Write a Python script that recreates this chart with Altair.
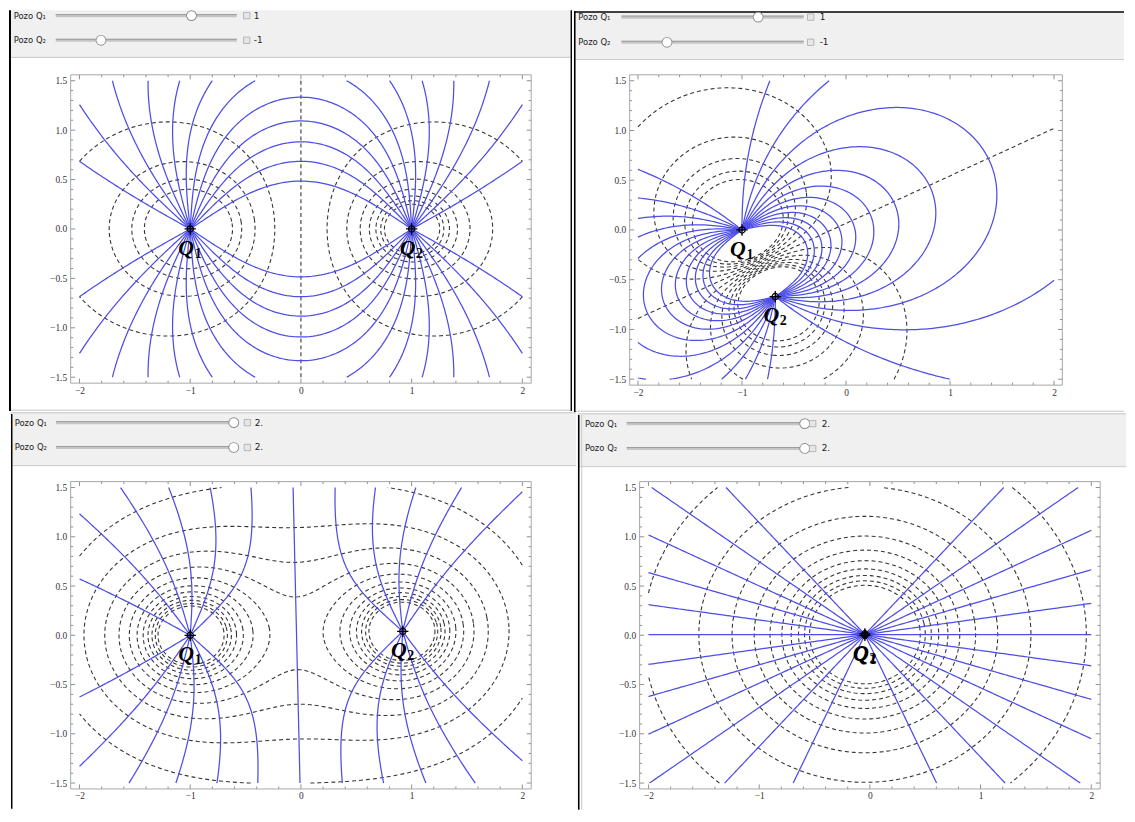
import numpy as np
import pandas as pd
import altair as alt

# ---------------- values ----------------
# slider values of the four Manipulate panels (top-left, top-right, bottom-left, bottom-right)
Q1_VALUES = [1, 1, 2, 2]
Q2_VALUES = [-1, -1, 2, 2]
Q1_SHOWN = ["1", "1", "2.", "2."]
Q2_SHOWN = ["-1", "-1", "2.", "2."]
SLIDER_MIN, SLIDER_MAX = -2, 2

# locator positions of the two wells in each panel
Q1_X = [-1.0, -1.0, -1.0, -0.045]
Q1_Y = [0.0, 0.0, 0.0, 0.0]
Q2_X = [1.0, -0.68, 0.92, -0.045]
Q2_Y = [0.0, -0.67, 0.04, 0.015]

# contour values of the flow lines (blue) and of the equipotentials (dashed)
STREAM_LEVELS = [
    [0.15, 0.30, 0.45, 0.60, 0.75, 0.90, 1.05, 1.20, 1.35, 1.50, 1.65, 1.80],
    [0.10, 0.20, 0.30, 0.40, 0.50, 0.60, 0.70, 0.80, 0.90, 1.00, 1.10, 1.20],
    [-3.675, -3.0625, -2.45, -1.8375, -1.225, -0.6125, 0.0, 0.6125, 1.225, 1.8375, 2.45, 3.0625],
    [-3.675, -3.0625, -2.45, -1.8375, -1.225, -0.6125, 0.0, 0.6125, 1.225, 1.8375, 2.45, 3.0625],
]
POTENTIAL_LEVELS = [
    [-3.5, -3.0, -2.5, -2.0, -1.5, -1.0, -0.5, 0.0, 0.5, 1.0, 1.5, 2.0],
    [-1.386, -1.155, -0.924, -0.693, -0.462, -0.231, 0.0, 0.231, 0.462, 0.693, 0.924, 1.155],
    [1.667, 2.222, 2.778, 3.333, 3.889, 4.444, 5.0, 5.556, 6.111, 6.667, 7.222, 7.778],
    [0.667, 1.333, 2.0, 2.667, 3.333, 4.0, 4.667, 5.333, 6.0, 6.667, 7.333, 8.0],
]

X_MAJOR = [-2, -1, 0, 1, 2]
X_MINOR = [-1.8, -1.6, -1.4, -1.2, -0.8, -0.6, -0.4, -0.2,
           0.2, 0.4, 0.6, 0.8, 1.2, 1.4, 1.6, 1.8]
Y_MAJOR = [-1.5, -1.0, -0.5, 0.0, 0.5, 1.0, 1.5]
Y_MINOR = [-1.4, -1.3, -1.2, -1.1, -0.9, -0.8, -0.7, -0.6, -0.4, -0.3, -0.2, -0.1,
           0.1, 0.2, 0.3, 0.4, 0.6, 0.7, 0.8, 0.9, 1.1, 1.2, 1.3, 1.4]

# ---------------- layout (page pixels) ----------------
PANEL_BOX = [(8, 8, 574, 411), (574, 8, 1127, 411), (8, 411, 576, 810), (576, 411, 1127, 810)]
FRAME = [(70, 73, 463, 310), (630, 72, 435, 312), (68, 481, 463, 309), (638, 480, 463, 309)]
CTRL = [
    dict(top=8, sep=55.5, rows=(13.5, 38.3), label=12.7, track=(55, 237), box=247, val=254),
    dict(top=9.6, sep=56.7, rows=(14.0, 39.3), label=578.3, track=(621.7, 805), box=812, val=821),
    dict(top=412, sep=465, rows=(421.7, 446.7), label=11.7, track=(53.3, 232), box=245.7, val=253),
    dict(top=412, sep=465, rows=(421.7, 446.7), label=583, track=(625, 804), box=812, val=821),
]
XDOM = [-2.08, 2.08]
YDOM = [-1.56, 1.56]

BLUE = "#4d4de8"
DASH = "#363636"
TICK = "#8f8f8f"
FRAMEC = "#a6a6a6"

# ---------------- field computation ----------------
NX, NY = 300, 226
XG = np.linspace(-2.0, 2.0, NX)
YG = np.linspace(-1.5, 1.5, NY)


def grids(qs, xs, ys):
    XX, YY = np.meshgrid(XG, YG)
    ax, ay = xs[1] - xs[0], ys[1] - ys[0]
    n = np.hypot(ax, ay)
    ax, ay = ax / n, ay / n
    phi = np.zeros_like(XX)
    psi = np.zeros_like(XX)
    for q, x0, y0 in zip(qs, xs, ys):
        dx, dy = XX - x0, YY - y0
        r = np.sqrt(dx * dx + dy * dy) + 1e-9
        phi += q / r
        psi += q * (dx * ax + dy * ay) / r
    return np.clip(phi, -500, 500), psi


CASES = {1: [('L', 'B')], 2: [('B', 'R')], 3: [('L', 'R')], 4: [('R', 'T')], 6: [('B', 'T')],
         7: [('T', 'L')], 8: [('T', 'L')], 9: [('B', 'T')], 11: [('R', 'T')], 12: [('L', 'R')],
         13: [('B', 'R')], 14: [('L', 'B')]}
SADDLE = {5: {True: [('B', 'R'), ('T', 'L')], False: [('L', 'B'), ('R', 'T')]},
          10: {True: [('L', 'B'), ('R', 'T')], False: [('B', 'R'), ('T', 'L')]}}


def contour_paths(Z, level):
    ny, nx = Z.shape
    B = Z > level
    a = B[:-1, :-1]; b = B[:-1, 1:]; c = B[1:, 1:]; d = B[1:, :-1]
    case = a.astype(int) + 2 * b + 4 * c + 8 * d
    center = 0.25 * (Z[:-1, :-1] + Z[:-1, 1:] + Z[1:, 1:] + Z[1:, :-1]) > level
    NH = ny * (nx - 1)
    ii, jj = np.meshgrid(np.arange(ny - 1), np.arange(nx - 1), indexing='ij')
    eid = {'B': ii * (nx - 1) + jj, 'T': (ii + 1) * (nx - 1) + jj,
           'L': NH + ii * nx + jj, 'R': NH + ii * nx + jj + 1}
    segs = []
    for k, pairs in CASES.items():
        m = case == k
        if m.any():
            for e1, e2 in pairs:
                segs.append(np.stack([eid[e1][m], eid[e2][m]], 1))
    for k, opt in SADDLE.items():
        for cen, pairs in opt.items():
            m = (case == k) & (center == cen)
            if m.any():
                for e1, e2 in pairs:
                    segs.append(np.stack([eid[e1][m], eid[e2][m]], 1))
    if not segs:
        return []
    segs = np.concatenate(segs)
    ue = np.unique(segs)
    xy = np.empty((len(ue), 2))
    h = ue < NH
    i, j = np.divmod(ue[h], nx - 1)
    z0, z1 = Z[i, j], Z[i, j + 1]
    t = (level - z0) / (z1 - z0)
    xy[h, 0] = XG[j] + t * (XG[j + 1] - XG[j]); xy[h, 1] = YG[i]
    i, j = np.divmod(ue[~h] - NH, nx)
    z0, z1 = Z[i, j], Z[i + 1, j]
    t = (level - z0) / (z1 - z0)
    xy[~h, 0] = XG[j]; xy[~h, 1] = YG[i] + t * (YG[i + 1] - YG[i])
    pos = {e: k for k, e in enumerate(ue.tolist())}
    adj = {}
    for e1, e2 in segs.tolist():
        adj.setdefault(e1, []).append(e2)
        adj.setdefault(e2, []).append(e1)
    visited = set()
    paths = []
    starts = [e for e, nb in adj.items() if len(nb) == 1] + list(adj.keys())
    for s in starts:
        if s in visited:
            continue
        path = [s]; visited.add(s); cur = s
        while True:
            nxt = None
            for nb in adj[cur]:
                if nb not in visited:
                    nxt = nb; break
            if nxt is None:
                break
            path.append(nxt); visited.add(nxt); cur = nxt
        if len(path) > 2 and s in adj[cur] and len(adj[s]) == 2:
            path.append(s)
        paths.append(xy[[pos[e] for e in path]])
    return paths


def thin(P, sx, sy, tol=2.0):
    keep = [0]
    lx, ly = P[0]
    for k in range(1, len(P) - 1):
        if np.hypot((P[k, 0] - lx) * sx, (P[k, 1] - ly) * sy) >= tol:
            keep.append(k); lx, ly = P[k]
    keep.append(len(P) - 1)
    return P[keep]


def lines_df(Z, levels, sx, sy):
    xs, ys, gs, os_ = [], [], [], []
    g = 0
    for lv in levels:
        for P in contour_paths(Z, lv):
            if len(P) < 2:
                continue
            seg = np.hypot(np.diff(P[:, 0]) * sx, np.diff(P[:, 1]) * sy).sum()
            if seg < 4:
                continue
            P = thin(P, sx, sy)
            xs.extend(np.round(P[:, 0], 4)); ys.extend(np.round(P[:, 1], 4))
            gs.extend([g] * len(P)); os_.extend(range(len(P)))
            g += 1
    return pd.DataFrame({'x': xs, 'y': ys, 'g': gs, 'o': os_})


ONE = pd.DataFrame({'k': [0]})


def vrect(x0, x1, y0, y1, fill, **kw):
    return alt.Chart(ONE).mark_rect(fill=fill, **kw).encode(
        x=alt.value(x0), x2=alt.value(x1), y=alt.value(y0), y2=alt.value(y1))


def hrule(x0, x1, y, color, w=1.0):
    return alt.Chart(ONE).mark_rule(color=color, strokeWidth=w).encode(
        x=alt.value(x0), x2=alt.value(x1), y=alt.value(y))


def panel(p):
    PL, PT, PR, PB = PANEL_BOX[p]
    FL, FT, W, H = FRAME[p]
    C = CTRL[p]
    rx = lambda v: v - FL
    ry = lambda v: v - FT
    sx = W / (XDOM[1] - XDOM[0])
    sy = H / (YDOM[1] - YDOM[0])

    XS = alt.Scale(domain=XDOM, nice=False, zero=False)
    YS = alt.Scale(domain=YDOM, nice=False, zero=False)
    XAX = alt.Axis(values=X_MAJOR, format='d', ticks=False, domain=False, grid=False,
                   labelFont='Liberation Serif', labelFontSize=9.5, labelColor='#333333',
                   labelPadding=2, labelFlush=False, title=None, zindex=2)
    YAX = alt.Axis(values=Y_MAJOR, format='.1f', ticks=False, domain=False, grid=False,
                   labelFont='Liberation Serif', labelFontSize=9.5, labelColor='#333333',
                   labelPadding=4, labelFlush=False, title=None, zindex=2)

    layers = []
    # panel backgrounds
    layers.append(vrect(rx(PL), rx(PR), ry(PT), ry(PB), '#ffffff'))
    layers.append(vrect(rx(PL), rx(PR), ry(C['top']), ry(C['sep']), '#f0f0f0'))
    layers.append(hrule(rx(PL), rx(PR), ry(C['sep']), '#c9c9c9'))
    if p < 2:
        layers.append(hrule(rx(PL), rx(PR), ry(PB - 0.8), '#c4c4c4'))
    else:
        layers.append(hrule(rx(PL), rx(PR), ry(PT + 0.8), '#c4c4c4'))
    # screenshot borders
    if p == 0:
        layers.append(vrect(rx(8), rx(10), ry(8), ry(411), '#000000'))
        layers.append(vrect(rx(572.6), rx(574), ry(8), ry(411), '#000000'))
    elif p == 1:
        layers.append(vrect(rx(574), rx(575.6), ry(8), ry(411), '#000000'))
        layers.append(vrect(rx(574), rx(PR), ry(8), ry(9.6), '#000000'))
    elif p == 2:
        layers.append(vrect(rx(8), rx(9.5), ry(413), ry(PB), '#000000'))
    else:
        layers.append(vrect(rx(576), rx(577.6), ry(413), ry(PB), '#000000'))
        layers.append(vrect(rx(579.3), rx(580.3), ry(413), ry(PB), '#c8c8c8'))

    # sliders
    tx0, tx1 = rx(C['track'][0]), rx(C['track'][1])
    kx_expr = f"{tx0} + (datum.Q - ({SLIDER_MIN})) / {SLIDER_MAX - SLIDER_MIN} * {tx1 - tx0}"
    for r, (qv, shown, name) in enumerate([(Q1_VALUES[p], Q1_SHOWN[p], 'Pozo  Q\u2081'),
                                          (Q2_VALUES[p], Q2_SHOWN[p], 'Pozo  Q\u2082')]):
        yr = ry(C['rows'][r])
        bx = rx(C['box'])
        layers.append(alt.Chart(ONE).mark_text(text=name, align='left', baseline='middle',
                                               font='DejaVu Sans', fontSize=8.5, color='#222222')
                      .encode(x=alt.value(rx(C['label'])), y=alt.value(yr)))
        layers.append(hrule(tx0, tx1, yr, '#c6c6c6', 3.2))
        layers.append(hrule(tx0, tx1, yr - 1, '#9c9c9c', 1.0))
        knob = alt.Chart(pd.DataFrame({'Q': [qv]})).transform_calculate(kx=kx_expr)
        layers.append(knob.mark_arc(theta=0, theta2=6.2832, radius=5.4, fill='#8c8c8c', opacity=1)
                      .encode(x=alt.X('kx:Q', scale=None), y=alt.value(yr)))
        layers.append(knob.mark_arc(theta=0, theta2=6.2832, radius=4.5, fill='#ffffff', opacity=1)
                      .encode(x=alt.X('kx:Q', scale=None), y=alt.value(yr)))
        layers.append(vrect(bx - 3.2, bx + 3.2, yr - 3.2, yr + 3.2, '#e6e6e6',
                            stroke='#a9a9a9', strokeWidth=0.8))
        layers.append(alt.Chart(pd.DataFrame({'t': [shown]})).mark_text(
            align='left', baseline='middle', font='DejaVu Sans', fontSize=9, color='#222222')
            .encode(text='t:N', x=alt.value(rx(C['val'])), y=alt.value(yr)))

    # field lines and equipotentials
    qs = [Q1_VALUES[p], Q2_VALUES[p]]
    xs = [Q1_X[p], Q2_X[p]]
    ys = [Q1_Y[p], Q2_Y[p]]
    phi, psi = grids(qs, xs, ys)
    df_s = lines_df(psi, STREAM_LEVELS[p], sx, sy)
    df_p = lines_df(phi, POTENTIAL_LEVELS[p], sx, sy)

    layers.append(alt.Chart(df_p).mark_line(color=DASH, strokeWidth=1.1, strokeDash=[4, 3]).encode(
        x=alt.X('x:Q', scale=XS, axis=XAX), y=alt.Y('y:Q', scale=YS, axis=YAX),
        detail='g:N', order='o:Q'))
    layers.append(alt.Chart(df_s).mark_line(color=BLUE, strokeWidth=1.25).encode(
        x=alt.X('x:Q', scale=XS, axis=XAX), y=alt.Y('y:Q', scale=YS, axis=YAX),
        detail='g:N', order='o:Q'))

    # frame ticks (pointing inward on all four sides)
    for vals, ln in [(X_MAJOR, 4.5), (X_MINOR, 2.5)]:
        d = pd.DataFrame({'v': vals})
        layers.append(alt.Chart(d).mark_rule(color=TICK, strokeWidth=1).encode(
            x=alt.X('v:Q', scale=XS, axis=XAX), y=alt.value(H), y2=alt.value(H - ln)))
        layers.append(alt.Chart(d).mark_rule(color=TICK, strokeWidth=1).encode(
            x=alt.X('v:Q', scale=XS, axis=XAX), y=alt.value(0), y2=alt.value(ln)))
    for vals, ln in [(Y_MAJOR, 4.5), (Y_MINOR, 2.5)]:
        d = pd.DataFrame({'v': vals})
        layers.append(alt.Chart(d).mark_rule(color=TICK, strokeWidth=1).encode(
            y=alt.Y('v:Q', scale=YS, axis=YAX), x=alt.value(0), x2=alt.value(ln)))
        layers.append(alt.Chart(d).mark_rule(color=TICK, strokeWidth=1).encode(
            y=alt.Y('v:Q', scale=YS, axis=YAX), x=alt.value(W), x2=alt.value(W - ln)))
    layers.append(alt.Chart(ONE).mark_rect(fillOpacity=0, stroke=FRAMEC, strokeWidth=1).encode(
        x=alt.value(0), x2=alt.value(W), y=alt.value(0), y2=alt.value(H)))

    # wells: locator symbol and label
    dq = pd.DataFrame({'x': xs, 'y': ys, 'n': ['1', '2']})
    enc = dict(x=alt.X('x:Q', scale=XS, axis=XAX), y=alt.Y('y:Q', scale=YS, axis=YAX))
    layers.append(alt.Chart(dq).mark_point(shape='circle', filled=False, color='#000000',
                                           size=40, strokeWidth=1.2, opacity=1).encode(**enc))
    layers.append(alt.Chart(dq).mark_point(shape='M-1,0L1,0M0,-1L0,1', filled=False, color='#000000',
                                           size=130, strokeWidth=1.3, opacity=1).encode(**enc))
    layers.append(alt.Chart(dq).mark_text(text='Q', font='Liberation Serif', fontStyle='italic',
                                          fontWeight='bold', fontSize=22, color='#000000',
                                          align='center', baseline='middle', dx=-4, dy=19)
                  .encode(**enc))
    layers.append(alt.Chart(dq).mark_text(font='Liberation Serif', fontWeight='bold', fontSize=14,
                                          color='#000000', align='center', baseline='middle',
                                          dx=8, dy=25)
                  .encode(text='n:N', **enc))

    return alt.layer(*layers).properties(width=W, height=H)


row1 = alt.hconcat(panel(0), panel(1), spacing=0)
row2 = alt.hconcat(panel(2), panel(3), spacing=0)
chart = alt.vconcat(row1, row2, spacing=0).properties(padding=0).configure_view(strokeWidth=0)
chart.save("out.html", embed_options={"renderer": "svg", "actions": False})
